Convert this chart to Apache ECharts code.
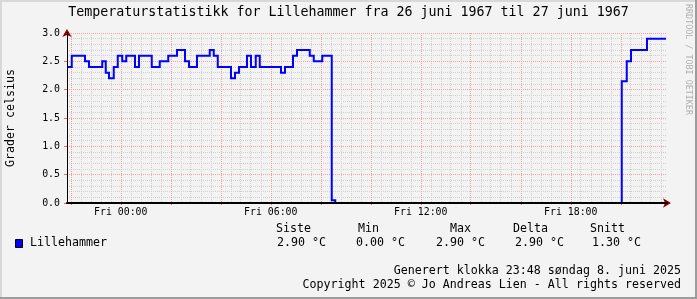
<!DOCTYPE html>
<html>
<head>
<meta charset="utf-8">
<script src="https://cdn.jsdelivr.net/npm/echarts@6/dist/echarts.min.js"></script>
<style>
html,body{margin:0;padding:0;background:#f3f3f3;}
#chart{width:697px;height:299px;}
</style>
</head>
<body>
<div id="chart"></div>
<script>
// ---- data (hours relative to Fri 00:00, temperature in °C) ----
const chartTitle = 'Temperaturstatistikk for Lillehammer fra 26 juni 1967 til 27 juni 1967';
const seriesName = 'Lillehammer';
const yAxisTitle = 'Grader celsius';
const hours = [-2.15, -1.96, -1.43, -1.27, -0.74, -0.60, -0.47, -0.28, -0.12, 0.06, 0.22, 0.57, 0.73, 1.24, 1.56, 1.90, 2.25, 2.57, 2.73, 3.05, 3.56, 3.72, 3.88, 4.41, 4.57, 4.73, 5.05, 5.21, 5.40, 5.56, 6.41, 6.57, 6.89, 7.05, 7.56, 7.72, 8.06, 8.44, 8.58, 20.04, 20.24, 20.41, 21.05, 21.81];
const temps = [2.4, 2.6, 2.5, 2.4, 2.5, 2.3, 2.2, 2.4, 2.6, 2.5, 2.6, 2.4, 2.6, 2.4, 2.5, 2.6, 2.7, 2.5, 2.4, 2.6, 2.7, 2.6, 2.4, 2.2, 2.3, 2.4, 2.6, 2.4, 2.6, 2.4, 2.3, 2.4, 2.6, 2.7, 2.6, 2.5, 2.6, 0.05, 0, 2.15, 2.5, 2.7, 2.9, 2.9];
const xMin = -2.15, xMax = 21.85;
const xTickHours = [0, 6, 12, 18];
const xTickLabels = ['Fri 00:00', 'Fri 06:00', 'Fri 12:00', 'Fri 18:00'];
const yTickValues = [0, 0.5, 1, 1.5, 2, 2.5, 3];
const yTickLabels = ['0.0', '0.5', '1.0', '1.5', '2.0', '2.5', '3.0'];
const statHeaders = ['Siste', 'Min', 'Max', 'Delta', 'Snitt'];
const statValues = ['2.90 °C', '0.00 °C', '2.90 °C', '2.90 °C', '1.30 °C'];
const footerLines = ['Generert klokka 23:48 søndag 8. juni 2025', 'Copyright 2025 © Jo Andreas Lien - All rights reserved'];
const sideNote = 'RRDTOOL / TOBI OETIKER';

// grid positions (axis values)
const majorHours = [];
for (let h = -2; h <= xMax; h += 2) majorHours.push(h);
const minorHours = [];
for (let k = 0; -2 + k * 0.4 <= xMax; k++) minorHours.push(+(-2 + k * 0.4).toFixed(2));

const FONT = '"DejaVu Sans Mono", monospace';
const MAJ = '#f0a0a0', MIN = '#cfcfcf', ARROW = '#8b0000';
const TXT = 11.65;

const chart = echarts.init(document.getElementById('chart'), null, {renderer: 'canvas'});

const xBase = {type: 'value', min: xMin, max: xMax, position: 'bottom', gridIndex: 0,
  axisLine: {show: false, onZero: false}, axisTick: {show: false}, axisLabel: {show: false}, splitLine: {show: false}};
const yBase = {type: 'value', min: 0, max: 3, interval: 0.5, position: 'left', gridIndex: 0,
  axisLine: {show: false, onZero: false}, axisTick: {show: false}, axisLabel: {show: false}, splitLine: {show: false}};

function txt(text, x, y, size, align, vAlign, extra) {
  return Object.assign({type: 'text', x: x, y: y, silent: true, z: 100,
    style: {text: text, fill: '#000', fontSize: size, fontFamily: FONT,
      align: align, verticalAlign: vAlign, textAlign: align, textVerticalAlign: vAlign}}, extra || {});
}

const statX = [276, 358, 450, 513, 590];
const valX = [277, 356, 436, 515, 592];
const graphics = [
  // frame
  {type: 'rect', shape: {x: 0, y: 0, width: 697, height: 2}, style: {fill: '#d8d8d8'}, silent: true},
  {type: 'rect', shape: {x: 0, y: 0, width: 2, height: 299}, style: {fill: '#d8d8d8'}, silent: true},
  {type: 'rect', shape: {x: 0, y: 297, width: 697, height: 2}, style: {fill: '#9c9c9c'}, silent: true},
  {type: 'rect', shape: {x: 695, y: 0, width: 2, height: 299}, style: {fill: '#9c9c9c'}, silent: true},
  txt(chartTitle, 348.5, 13, 13.3, 'center', 'middle'),
  txt(yAxisTitle, 11, 118, TXT, 'center', 'middle', {rotation: Math.PI / 2}),
  txt(sideNote, 688, 4, 8.4, 'left', 'middle', {rotation: -Math.PI / 2}),
  {type: 'rect', shape: {x: 15.5, y: 239.5, width: 7, height: 8}, style: {fill: '#0000ff', stroke: '#000', lineWidth: 1}, silent: true, z: 100},
  txt(seriesName, 30, 243.3, TXT, 'left', 'middle')
];
graphics[6].style.fill = '#b0b0b0';
statHeaders.forEach((h, i) => graphics.push(txt(h, statX[i], 229.3, TXT, 'left', 'middle')));
statValues.forEach((v, i) => graphics.push(txt(v, valX[i], 243.3, TXT, 'left', 'middle')));
footerLines.forEach((f, i) => graphics.push(txt(f, 681, 271 + i * 14.3, TXT, 'right', 'middle')));

const option = {
  animation: false,
  backgroundColor: '#f3f3f3',
  grid: {left: 67, right: 30, top: 33, bottom: 96, containLabel: false, show: false},
  xAxis: [
    Object.assign({}, xBase, {z: 0}),
    Object.assign({}, xBase, {z: 0, axisTick: {show: false, customValues: minorHours},
      splitLine: {show: true, lineStyle: {color: MIN, width: 1, type: [1, 1]}}}),
    Object.assign({}, xBase, {z: 1,
      axisTick: {show: true, customValues: majorHours, length: 2, lineStyle: {color: '#e07070'}},
      axisLabel: {show: true, customValues: xTickHours, margin: 4, color: '#000', fontSize: 9.9, fontFamily: FONT,
        formatter: v => xTickLabels[xTickHours.indexOf(Math.round(v))]},
      splitLine: {show: true, lineStyle: {color: MAJ, width: 1, type: [1, 1]}}}),
    Object.assign({}, xBase, {z: 5, axisLine: {show: true, onZero: false, symbol: ['none', 'arrow'], symbolSize: [7, 8], symbolOffset: [0, 4], lineStyle: {color: ARROW, width: 1}}}),
    Object.assign({}, xBase, {z: 6, axisLine: {show: true, onZero: false, lineStyle: {color: '#000', width: 2}}})
  ],
  yAxis: [
    Object.assign({}, yBase, {z: 1,
      axisTick: {show: true, length: 3, lineStyle: {color: '#e07070'}},
      axisLabel: {show: true, margin: 7, color: '#000', fontSize: 9.9, fontFamily: FONT,
        formatter: v => yTickLabels[yTickValues.indexOf(+v.toFixed(1))]},
      splitLine: {show: true, lineStyle: {color: MAJ, width: 1, type: [1, 1]}},
      minorTick: {show: false, splitNumber: 5},
      minorSplitLine: {show: true, lineStyle: {color: MIN, width: 1, type: [1, 1]}}}),
    Object.assign({}, yBase, {z: 5, axisLine: {show: true, onZero: false, symbol: ['none', 'arrow'], symbolSize: [7, 8], symbolOffset: [0, 4], lineStyle: {color: ARROW, width: 1}}}),
    Object.assign({}, yBase, {z: 6, axisLine: {show: true, onZero: false, lineStyle: {color: '#000', width: 1}}})
  ],
  series: [{
    name: seriesName, type: 'line', xAxisIndex: 0, yAxisIndex: 0, step: 'end',
    data: hours.map((h, i) => [h, temps[i]]),
    symbol: 'none', showSymbol: false, z: 2, clip: true,
    lineStyle: {color: '#0000ff', width: 2, join: 'miter', cap: 'butt'}
  }],
  graphic: graphics
};
chart.setOption(option);
</script>
</body>
</html>
